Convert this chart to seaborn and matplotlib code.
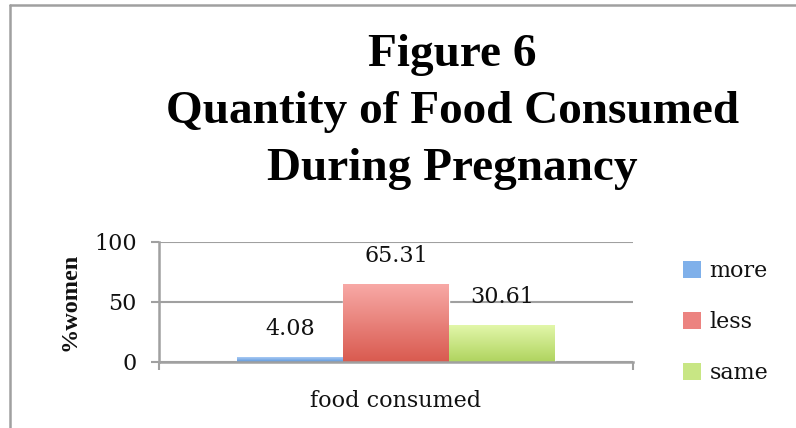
import numpy as np
import pandas as pd
import matplotlib
matplotlib.use("Agg")
import matplotlib.pyplot as plt
import seaborn as sns
from matplotlib.colors import LinearSegmentedColormap
from matplotlib.lines import Line2D
from matplotlib.patches import Patch

# Survey results
category = ["food consumed"]
responses = ["more", "less", "same"]
percent_women = [4.08, 65.31, 30.61]
y_ticks = [0, 50, 100]

# Gradient (top, bottom) for each response
grad_top = ["#aacbf4", "#f8aaa7", "#e2f7a9"]
grad_bottom = ["#5b95da", "#d95a4f", "#afd35f"]
legend_colors = ["#7fb0ea", "#ec8380", "#c8e684"]

df = pd.DataFrame({
    "category": category * len(responses),
    "response": responses,
    "percent": percent_women,
})

sns.set_theme(style="white")
plt.rcParams["font.family"] = ["DejaVu Serif", "Liberation Serif"]
plt.rcParams["text.color"] = "#111111"
plt.rcParams["xtick.color"] = "#111111"
plt.rcParams["ytick.color"] = "#111111"
plt.rcParams["axes.labelcolor"] = "#111111"
SMALL = 16

fig = plt.figure(figsize=(7.96, 4.28), dpi=100)
ax = fig.add_axes([159 / 796, 1 - 362 / 428, (633 - 159) / 796, 120 / 428])

sns.barplot(data=df, x="category", y="percent", hue="response",
            hue_order=responses, palette=legend_colors, width=0.67,
            ax=ax, legend=False, saturation=1)

ax.set_xlim(-0.5, 0.5)
ax.set_ylim(0, 100)

# Paint a vertical gradient inside every bar and label its value
bars = sorted(ax.patches, key=lambda p: p.get_x())
for bar, top, bottom, val in zip(bars, grad_top, grad_bottom, percent_women):
    cmap = LinearSegmentedColormap.from_list("g", [bottom, top])
    x0, w, h = bar.get_x(), bar.get_width(), bar.get_height()
    grad = np.linspace(0, 1, 256).reshape(-1, 1)
    im = ax.imshow(grad, cmap=cmap, origin="lower", aspect="auto",
                   extent=[x0, x0 + w, 0, h], zorder=bar.get_zorder() + 0.1)
    im.set_clip_path(bar)
    ax.annotate(f"{val:.2f}", (x0 + w / 2, h), xytext=(0, 20),
                textcoords="offset points", ha="center", va="center",
                fontsize=SMALL)

ax.set_xlim(-0.5, 0.5)
ax.set_ylim(0, 100)

# Axes styling
ax.set_yticks(y_ticks)
ax.yaxis.grid(True, color="#a0a0a0", linewidth=1.5)
ax.set_axisbelow(True)
for s in ["top", "right"]:
    ax.spines[s].set_visible(False)
for s in ["left", "bottom"]:
    ax.spines[s].set_color("#a0a0a0")
    ax.spines[s].set_linewidth(1.8)
ax.tick_params(axis="y", which="major", direction="out", length=6, width=1.5,
               color="#a0a0a0", labelsize=SMALL, pad=10, left=True)
ax.tick_params(axis="x", which="major", length=0, labelsize=SMALL, pad=20)
ax.set_xticks([-0.5, 0.5], minor=True)
ax.tick_params(axis="x", which="minor", direction="out", length=6, width=1.5,
               color="#a0a0a0", bottom=True)
ax.set_xlabel("")
ax.set_ylabel("%women", fontsize=17.5, fontweight="bold", labelpad=10,
              family="Liberation Serif")

fig.suptitle("Figure 6\nQuantity of Food Consumed\nDuring Pregnancy",
             x=0.568, y=1 - 34 / 428, fontsize=34, fontweight="bold",
             linespacing=1.47, va="top", color="black",
             family="Liberation Serif")

handles = [Patch(facecolor=c, edgecolor="none") for c in legend_colors]
fig.legend(handles, responses, loc="center left",
           bbox_to_anchor=(683 / 796, 1 - 322 / 428),
           frameon=False, fontsize=SMALL, handlelength=0.8, handleheight=0.8,
           labelspacing=1.3, handletextpad=0.4, borderaxespad=0,
           borderpad=0)

# Outer chart frame
fig.add_artist(Line2D([10 / 796, 10 / 796], [0, 1 - 5 / 428], color="#a0a0a0",
                      linewidth=1.8, transform=fig.transFigure))
fig.add_artist(Line2D([10 / 796, 1], [1 - 5 / 428, 1 - 5 / 428], color="#a0a0a0",
                      linewidth=1.8, transform=fig.transFigure))

fig.savefig("out.png", dpi=100)
